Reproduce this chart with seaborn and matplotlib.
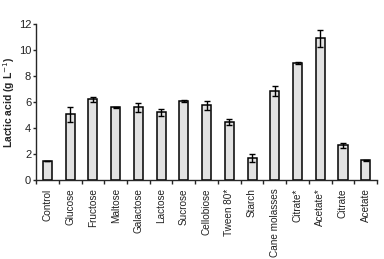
import numpy as np
import matplotlib
matplotlib.use('Agg')
import matplotlib.pyplot as plt
import pandas as pd
import seaborn as sns

substrates = ['Control', 'Glucose', 'Fructose', 'Maltose', 'Galactose', 'Lactose', 'Sucrose',
              'Cellobiose', 'Tween 80*', 'Starch', 'Cane molasses', 'Citrate*', 'Acetate*',
              'Citrate', 'Acetate']
lactic = [1.44, 5.05, 6.2, 5.59, 5.59, 5.2, 6.08, 5.74, 4.44, 1.67, 6.85, 9.0, 10.9, 2.67, 1.51]
err = [0.0, 0.58, 0.22, 0.04, 0.32, 0.24, 0.06, 0.33, 0.23, 0.31, 0.35, 0.05, 0.65, 0.2, 0.06]

df = pd.DataFrame({'substrate': substrates, 'lactic': lactic, 'err': err})

sns.set_style('ticks')
plt.rcParams['font.family'] = ['Liberation Sans', 'DejaVu Sans']

fig = plt.figure(figsize=(3.84, 2.59), dpi=100)
ax = fig.add_axes([0.094, 0.305, 0.888, 0.602])

sns.barplot(data=df, x='substrate', y='lactic', color='#e2e2e2', edgecolor='black',
            linewidth=1.1, width=0.4, errorbar=None, saturation=1, ax=ax)
ax.errorbar(np.arange(len(substrates)), df['lactic'], yerr=df['err'], fmt='none',
            ecolor='black', elinewidth=1, capsize=2.5, capthick=1)

ax.set_xlim(-0.5, len(substrates) - 0.5)
ax.set_ylim(0, 12)
ax.set_yticks(range(0, 13, 2))
ax.set_xticks(np.arange(-0.5, len(substrates)), minor=True)
ax.tick_params(axis='x', which='major', length=0, labelrotation=90, labelsize=7.2, pad=6,
               labelcolor='#222222')
ax.tick_params(axis='x', which='minor', length=3, width=1)
ax.tick_params(axis='y', length=2.5, width=1, labelsize=8, pad=1, labelcolor='#222222')
ax.set_xlabel('')
ax.set_ylabel('Lactic acid (g L$^{-1}$)', fontsize=7.5, fontweight='bold')
ax.yaxis.set_label_coords(-0.055, 0.5)
for s in ['left', 'bottom']:
    ax.spines[s].set_linewidth(1)
sns.despine(ax=ax)

fig.savefig('out.png', dpi=100)
